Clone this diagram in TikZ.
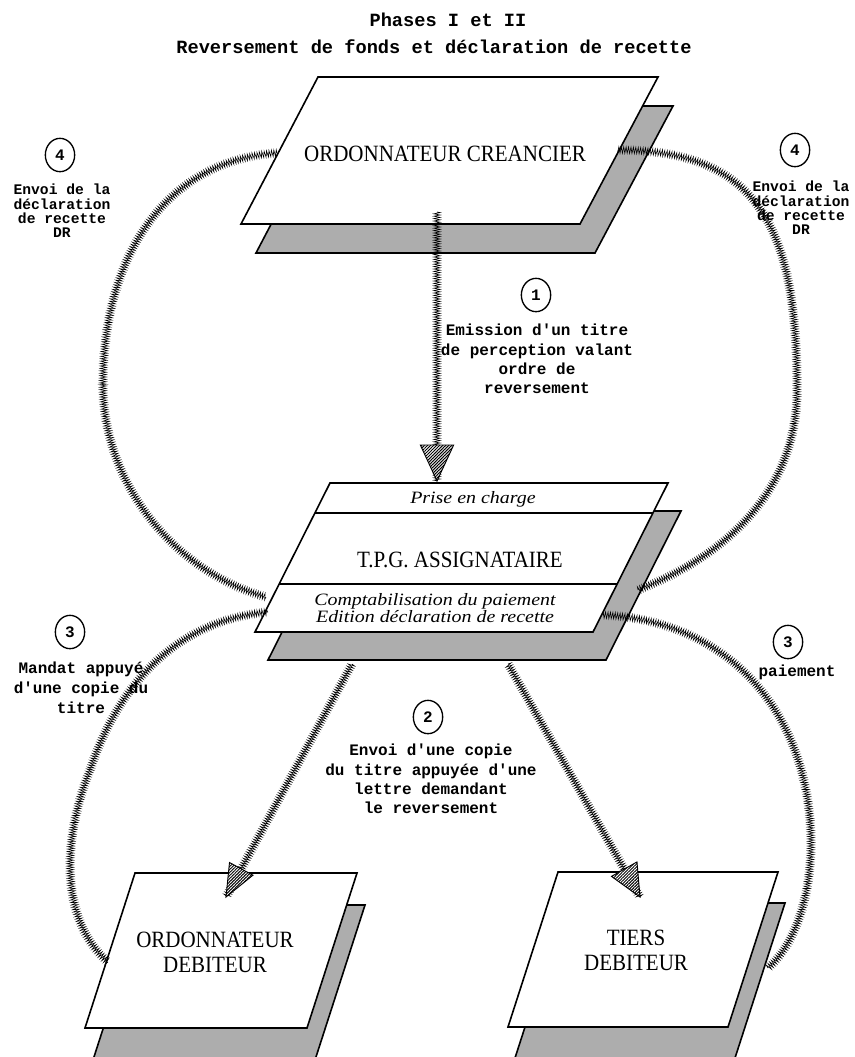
\documentclass[tikz,border=0pt]{standalone}
\usepackage{fontspec}
\setmainfont{Liberation Serif}
\newfontfamily\boxfont[FakeStretch=0.9]{Liberation Serif}
\newfontfamily\itfont[FakeStretch=1.15]{Liberation Serif}
\newfontfamily\labfont{Liberation Mono}
\usetikzlibrary{shapes.geometric,decorations.pathmorphing,decorations.markings,patterns.meta}
\newcommand{\hatchhead}[2]{%
  \path[fill=white] (0pt,0pt) -- (-#1,#2) -- (-#1,-#2) -- cycle;
  \path[pattern={Lines[angle=45,distance=1.6pt,line width=0.75pt]}] (0pt,0pt) -- (-#1,#2) -- (-#1,-#2) -- cycle;
  \draw[line width=0.7pt] (0pt,0pt) -- (-#1,#2) -- (-#1,-#2) -- cycle;}
\tikzset{
  box/.style={draw, line width=1.2pt, fill=white, line join=miter},
  shadowbox/.style={draw, line width=1.2pt, fill=black!32, line join=miter},
  divider/.style={draw, line width=1pt},
  rope/.style={postaction={draw, line width=0.45pt, decorate, decoration={zigzag, segment length=1.8pt, amplitude=2.4pt}}},
  hhead/.style 2 args={postaction={decorate, decoration={markings, mark=at position 1 with {\hatchhead{#1}{#2}}}}},
  boxtxt/.style={font=\boxfont\fontsize{17.5pt}{18.75pt}\selectfont, align=center, inner sep=0pt},
  ittxt/.style={font=\itfont\itshape\fontsize{13pt}{12.75pt}\selectfont, align=center, inner sep=0pt},
  lab/.style={font=\labfont\bfseries\fontsize{12pt}{14.5pt}\selectfont, align=center, inner sep=0pt},
  labtight/.style={font=\labfont\bfseries\fontsize{11pt}{10.7pt}\selectfont, align=center, inner sep=0pt},
  num/.style={draw, ellipse, line width=1pt, minimum width=22pt, minimum height=25pt, inner sep=0pt, font=\labfont\bfseries\fontsize{12pt}{12pt}\selectfont},
  ttl/.style={font=\labfont\bfseries\fontsize{14pt}{16pt}\selectfont, inner sep=0pt}
}
\begin{document}
\begin{tikzpicture}[x=0.75pt,y=-0.75pt]
\useasboundingbox (0,0) rectangle (854,1057);
\fill[white] (0,0) rectangle (854,1057);

% title
\node[ttl] (t1) at (448,20) {Phases I et II};
\node[ttl] (t2) at (434,47) {Reversement de fonds et déclaration de recette};

% top box: ordonnateur creancier
\begin{scope}[shift={(15,29)}]
  \draw[shadowbox] (318,77) -- (658,77) -- (580,224) -- (241,224) -- cycle;
\end{scope}
\draw[box] (318,77) -- (658,77) -- (580,224) -- (241,224) -- cycle;
\node[boxtxt] (cr) at (445,154) {ORDONNATEUR CREANCIER};

% middle box: TPG
\begin{scope}[shift={(13,28)}]
  \draw[shadowbox] (330,483) -- (668,483) -- (593,632) -- (255,632) -- cycle;
\end{scope}
\draw[box] (330,483) -- (668,483) -- (593,632) -- (255,632) -- cycle;
\draw[divider] (315,513) -- (653,513);
\draw[divider] (279,584) -- (617,584);
\node[ittxt] (pec) at (473,499) {Prise en charge};
\node[boxtxt] (tpg) at (460,560) {T.P.G. ASSIGNATAIRE};
\node[ittxt] (cpt) at (435,608) {Comptabilisation du paiement\\Edition déclaration de recette};

% bottom left box: ordonnateur debiteur
\begin{scope}[shift={(8,32)}]
  \draw[shadowbox] (135,873) -- (357,873) -- (307,1028) -- (85,1028) -- cycle;
\end{scope}
\draw[box] (135,873) -- (357,873) -- (307,1028) -- (85,1028) -- cycle;
\node[boxtxt] (od) at (215,952) {ORDONNATEUR\\DEBITEUR};

% bottom right box: tiers debiteur
\begin{scope}[shift={(7,31)}]
  \draw[shadowbox] (558,872) -- (778,872) -- (728,1027) -- (508,1027) -- cycle;
\end{scope}
\draw[box] (558,872) -- (778,872) -- (728,1027) -- (508,1027) -- cycle;
\node[boxtxt] (td) at (636,950) {TIERS\\DEBITEUR};

% connector end points
\coordinate (cr1) at (437,212);
\coordinate (tpg1) at (437,481);
\coordinate (tpgL4) at (266,597);
\coordinate (crL) at (277,153);
\coordinate (tpgR4) at (638,590);
\coordinate (crR) at (618,150);
\coordinate (odL) at (108,962);
\coordinate (tpgL3) at (268,612);
\coordinate (tdR) at (768,968);
\coordinate (tpgR3) at (603,615);
\coordinate (tpgB1) at (352,664);
\coordinate (odT) at (226,897);
\coordinate (tpgB2) at (508,664);
\coordinate (tdT) at (640,897);

% arrows
\path[rope, hhead={27pt}{12.5pt}] (cr1) -- (tpg1);
\path[rope, hhead={22pt}{10.5pt}] (tpgL4) .. controls (170,570) and (103,480) .. (103,385)
   .. controls (103,250) and (170,160) .. (crL);
\path[rope, hhead={22pt}{10.5pt}] (tpgR4) .. controls (740,550) and (797,480) .. (797,390)
   .. controls (797,230) and (760,150) .. (crR);
\path[rope, hhead={22pt}{10.5pt}] (odL) .. controls (60,920) and (62,840) .. (90,770)
   .. controls (120,680) and (180,620) .. (tpgL3);
\path[rope, hhead={22pt}{10.5pt}] (tdR) .. controls (800,940) and (815,880) .. (810,820)
   .. controls (800,700) and (720,620) .. (tpgR3);
\path[rope, hhead={24pt}{10pt}] (tpgB1) -- (odT);
\path[rope, hhead={24pt}{11pt}] (tpgB2) -- (tdT);

% labels
\node[num] (n4l) at (60,155) {4};
\node[labtight] (l4l) at (62,211) {Envoi de la\\déclaration\\de recette\\DR};
\node[num] (n4r) at (795,150) {4};
\node[labtight] (l4r) at (801,208) {Envoi de la\\déclaration\\de recette\\DR};
\node[num] (n1) at (536,295) {1};
\node[lab] (l1) at (537,359) {Emission d'un titre\\de perception valant\\ordre de\\reversement};
\node[num] (n2) at (428,717) {2};
\node[lab] (l2) at (431,779) {Envoi d'une copie\\du titre appuyée d'une\\lettre demandant\\le reversement};
\node[num] (n3l) at (70,632) {3};
\node[lab, font=\labfont\bfseries\fontsize{12pt}{15pt}\selectfont] (l3l) at (81,688) {Mandat appuyé\\d'une copie du\\titre};
\node[num] (n3r) at (788,642) {3};
\node[lab] (l3r) at (797,672) {paiement};
\end{tikzpicture}
\end{document}
